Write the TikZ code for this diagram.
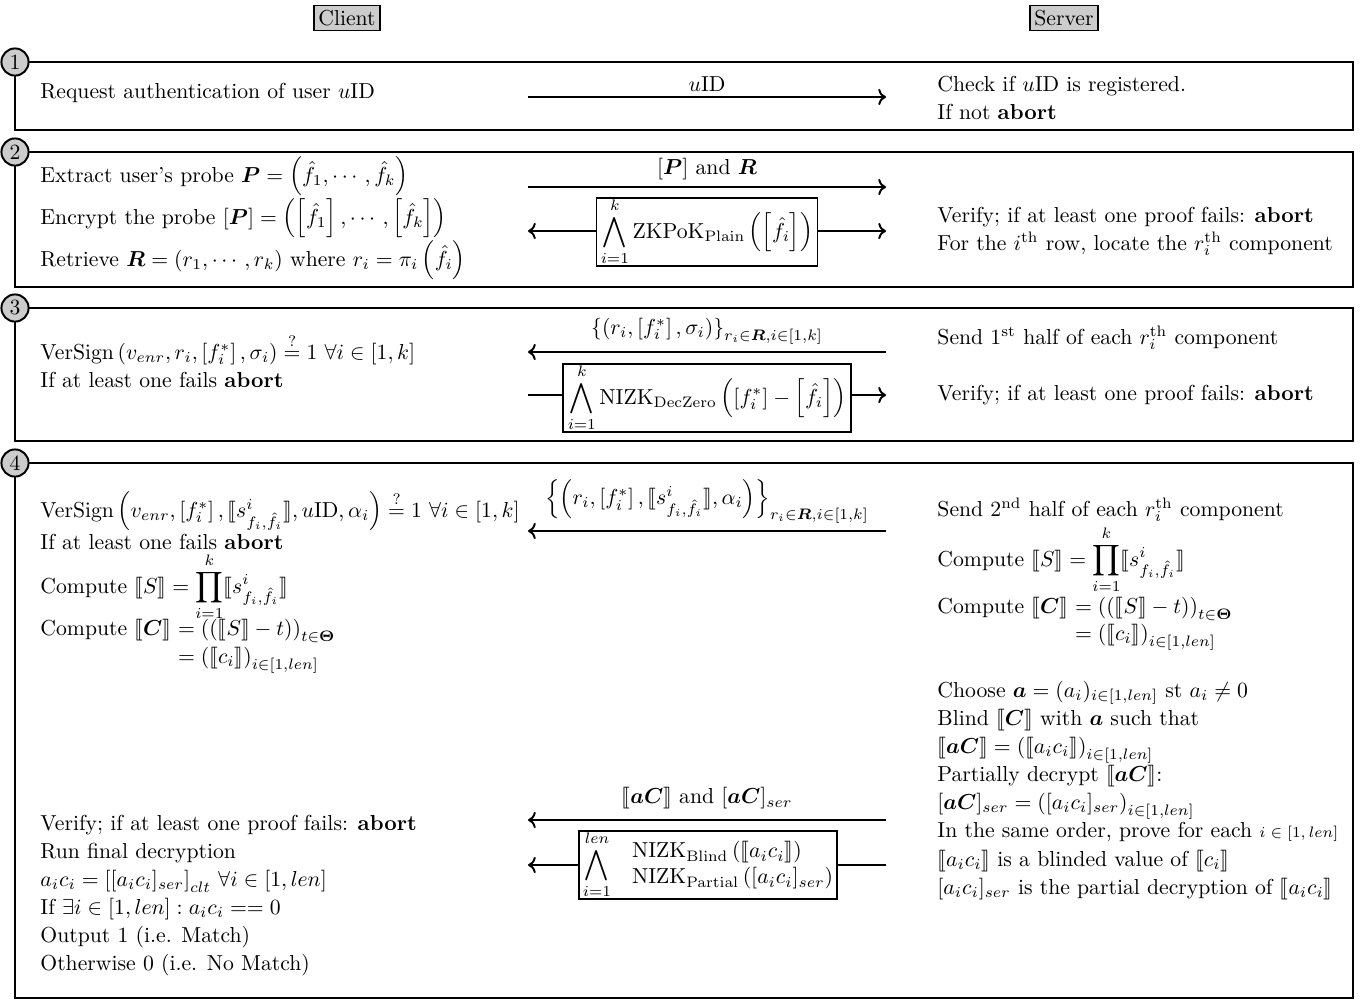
\documentclass[tikz,border=0pt]{standalone}
\usepackage{amsmath,amssymb,bm,stmaryrd}
\usetikzlibrary{arrows.meta}

\newcommand{\ct}[1]{\llbracket #1\rrbracket}
\newcommand{\sfi}{s^{i}_{f_i,\hat{f}_i}}

\tikzset{
  phase/.style={draw, line width=0.9pt},
  num/.style={circle, draw, line width=0.9pt, fill=black!20, minimum size=0.44cm, inner sep=0pt},
  role/.style={draw, fill=black!20, inner sep=2pt, line width=0.6pt},
  txt/.style={anchor=base west, inner sep=0pt},
  msg/.style={line width=0.9pt, ->},
  bare/.style={line width=0.9pt},
  lbl/.style={inner sep=0pt},
  proof/.style={draw, line width=0.9pt, inner xsep=2pt, inner ysep=0pt, fill=white},
}

\begin{document}
\begin{tikzpicture}[x=0.01621cm, y=-0.01621cm]
\useasboundingbox (0,0) rectangle (1367,1001);

% parties
\node[role] (client) at (347,18) {Client};
\node[role] (server) at (1064,18) {Server};

% ---------------- phase 1 ----------------
\draw[phase] (15,62) rectangle (1353,130);
\node[num] (p1) at (15,62) {1};
\node[txt] (c11) at (40,98) {Request authentication of user $u$ID};
\coordinate (a1L) at (528,97);
\coordinate (a1R) at (886,97);
\draw[msg] (a1L) -- node[lbl, above=2pt] (m1) {$u$ID} (a1R);
\node[txt] (s11) at (937,91) {Check if $u$ID is registered.};
\node[txt] (s12) at (937,119) {If not \textbf{abort}};

% ---------------- phase 2 ----------------
\draw[phase] (15,152) rectangle (1353,287);
\node[num] (p2) at (15,152) {2};
\node[txt] (c21) at (40,182) {Extract user's probe $\bm{P} = \left(\hat{f}_1, \cdots, \hat{f}_k\right)$};
\node[txt] (c22) at (40,224) {Encrypt the probe $[\bm{P}] = \left(\left[\hat{f}_1\right], \cdots, \left[\hat{f}_k\right]\right)$};
\node[txt] (c23) at (40,266) {Retrieve $\bm{R} = (r_1, \cdots, r_k)$ where $r_i = \pi_i\left(\hat{f}_i\right)$};
\coordinate (a2L) at (528,187);
\coordinate (a2R) at (886,187);
\draw[msg] (a2L) -- node[lbl, above=3pt] (m2) {$[\bm{P}]$ and $\bm{R}$} (a2R);
\coordinate (b2L) at (528,231);
\coordinate (b2R) at (886,231);
\node[proof] (z2) at (707,232) {$\displaystyle\bigwedge_{i=1}^{k}\mathrm{ZKPoK}_{\mathrm{Plain}}\left(\left[\hat{f}_i\right]\right)$};
\draw[msg] (z2.west |- b2L) -- (b2L);
\draw[msg] (z2.east |- b2R) -- (b2R);
\node[txt] (s21) at (937,222) {Verify; if at least one proof fails: \textbf{abort}};
\node[txt] (s22) at (937,250) {For the $i^{\text{th}}$ row, locate the $r_i^{\text{th}}$ component};

% ---------------- phase 3 ----------------
\draw[phase] (15,308) rectangle (1353,441);
\node[num] (p3) at (15,308) {3};
\node[txt] (c31) at (40,359) {$\mathrm{VerSign}\left(v_{enr}, r_i, \left[f_i^*\right], \sigma_i\right) \stackrel{?}{=} 1\ \forall i \in [1,k]$};
\node[txt] (c32) at (40,387) {If at least one fails \textbf{abort}};
\coordinate (a3L) at (528,352);
\coordinate (a3R) at (886,352);
\draw[msg] (a3R) -- node[lbl, above=3pt] (m3) {$\left\{\left(r_i, \left[f_i^*\right], \sigma_i\right)\right\}_{r_i \in \bm{R}, i\in[1,k]}$} (a3L);
\coordinate (b3L) at (528,395);
\coordinate (b3R) at (886,395);
\node[proof] (z3) at (707,398) {$\displaystyle\bigwedge_{i=1}^{k}\mathrm{NIZK}_{\mathrm{DecZero}}\left(\left[f_i^*\right] - \left[\hat{f}_i\right]\right)$};
\draw[bare] (b3L) -- (z3.west |- b3L);
\draw[msg] (z3.east |- b3R) -- (b3R);
\node[txt] (s31) at (937,344) {Send 1\textsuperscript{st} half of each $r_i^{\text{th}}$ component};
\node[txt] (s32) at (937,400) {Verify; if at least one proof fails: \textbf{abort}};

% ---------------- phase 4 ----------------
\draw[phase] (15,463) rectangle (1353,998);
\node[num] (p4) at (15,463) {4};
\node[txt] (c41) at (40,517) {$\mathrm{VerSign}\left(v_{enr}, \left[f_i^*\right], \ct{\sfi}, u\mathrm{ID}, \alpha_i\right) \stackrel{?}{=} 1\ \forall i\in[1,k]$};
\node[txt] (c42) at (40,549) {If at least one fails \textbf{abort}};
\node[txt] (c43) at (40,593) {Compute $\ct{S} = \displaystyle\prod_{i=1}^{k}\ct{\sfi}$};
\node[txt] (c44) at (40,635) {Compute $\ct{\bm{C}}$};
\node[txt] (c44r) at (c44.base east) {${}= \left(\left(\ct{S} - t\right)\right)_{t\in\bm{\Theta}}$};
\node[txt] (c45) at (c44r.base west |- 0,663) {${}= \left(\ct{c_i}\right)_{i\in[1,len]}$};

\coordinate (a4L) at (528,531);
\coordinate (a4R) at (886,531);
\draw[msg] (a4R) -- node[lbl, above=3pt] (m4) {$\left\{\left(r_i, \left[f_i^*\right], \ct{\sfi}, \alpha_i\right)\right\}_{r_i\in\bm{R}, i\in[1,k]}$} (a4L);

\node[txt] (s41) at (937,516) {Send 2\textsuperscript{nd} half of each $r_i^{\text{th}}$ component};
\node[txt] (s42) at (937,566) {Compute $\ct{S} = \displaystyle\prod_{i=1}^{k}\ct{\sfi}$};
\node[txt] (s43) at (937,613) {Compute $\ct{\bm{C}}$};
\node[txt] (s43r) at (s43.base east) {${}= \left(\left(\ct{S} - t\right)\right)_{t\in\bm{\Theta}}$};
\node[txt] (s44) at (s43r.base west |- 0,640) {${}= \left(\ct{c_i}\right)_{i\in[1,len]}$};

\node[txt] (s45) at (937,697) {Choose $\bm{a} = (a_i)_{i\in[1,len]}$ st $a_i \neq 0$};
\node[txt] (s46) at (937,725) {Blind $\ct{\bm{C}}$ with $\bm{a}$ such that};
\node[txt] (s47) at (937,753) {$\ct{\bm{aC}} = \left(\ct{a_ic_i}\right)_{i\in[1,len]}$};
\node[txt] (s48) at (937,781) {Partially decrypt $\ct{\bm{aC}}$:};
\node[txt] (s49) at (937,809) {$[\bm{aC}]_{ser} = \left([a_ic_i]_{ser}\right)_{i\in[1,len]}$};
\node[txt] (s4a) at (937,837) {In the same order, prove for each {\scriptsize $i\in[1,len]$}};
\node[txt] (s4b) at (937,866) {$\ct{a_ic_i}$ is a blinded value of $\ct{c_i}$};
\node[txt] (s4c) at (937,894) {$[a_ic_i]_{ser}$ is the partial decryption of $\ct{a_ic_i}$};

\coordinate (a5L) at (528,820);
\coordinate (a5R) at (886,820);
\draw[msg] (a5R) -- node[lbl, above=4.5pt] (m5) {$\ct{\bm{aC}}$ and $[\bm{aC}]_{ser}$} (a5L);
\coordinate (b5L) at (528,865);
\coordinate (b5R) at (886,865);
\node[proof] (z5) at (708,865) {$\displaystyle\bigwedge_{i=1}^{len}\begin{array}{@{\hspace{8pt}}l@{}}\mathrm{NIZK}_{\mathrm{Blind}}\left(\ct{a_ic_i}\right)\\ \mathrm{NIZK}_{\mathrm{Partial}}\left([a_ic_i]_{ser}\right)\end{array}$};
\draw[bare] (b5R) -- (z5.east |- b5R);
\draw[msg] (z5.west |- b5L) -- (b5L);

\node[txt] (c46) at (40,830) {Verify; if at least one proof fails: \textbf{abort}};
\node[txt] (c47) at (40,858) {Run final decryption};
\node[txt] (c48) at (40,886) {$a_ic_i = \left[[a_ic_i]_{ser}\right]_{clt}\,\forall i\in[1,len]$};
\node[txt] (c49) at (40,914) {If $\exists i\in[1,len] : a_ic_i == 0$};
\node[txt] (c4a) at (40,942) {Output 1 (i.e. Match)};
\node[txt] (c4b) at (40,970) {Otherwise 0 (i.e. No Match)};
\end{tikzpicture}
\end{document}
